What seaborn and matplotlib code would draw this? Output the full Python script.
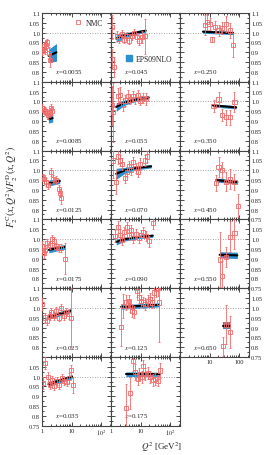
import numpy as np
import seaborn as sns
import matplotlib.pyplot as plt
from matplotlib.lines import Line2D
from matplotlib.ticker import FixedLocator, FixedFormatter, LogLocator, MultipleLocator, NullFormatter

# NMC data: Q^2, ratio, error
q_0055 = [1.02, 1.17, 1.29, 1.4, 1.48, 1.73, 1.82]
r_0055 = [0.905, 0.93, 0.91, 0.935, 0.95, 0.895, 0.86]
e_0055 = [0.02, 0.025, 0.02, 0.025, 0.02, 0.03, 0.035]

q_0085 = [1.02, 1.15, 1.3, 1.45, 1.6, 1.8, 2.0, 2.15]
r_0085 = [0.965, 0.955, 0.95, 0.94, 0.93, 0.945, 0.965, 0.95]
e_0085 = [0.02, 0.02, 0.02, 0.02, 0.02, 0.02, 0.02, 0.02]

q_0125 = [1.06, 1.17, 1.37, 1.6, 1.97, 2.36, 3.05, 3.68, 4.07, 4.5]
r_0125 = [0.963, 0.954, 0.942, 0.926, 0.993, 0.956, 0.95, 0.905, 0.885, 0.86]
e_0125 = [0.02, 0.02, 0.02, 0.02, 0.02, 0.02, 0.02, 0.02, 0.02, 0.03]

q_0175 = [1.0, 1.17, 1.29, 1.51, 1.82, 2.18, 2.55, 3.05, 3.68, 4.5, 6.2]
r_0175 = [0.962, 0.929, 0.946, 0.98, 0.97, 1.0, 0.988, 0.962, 0.955, 0.955, 0.9]
e_0175 = [0.03, 0.025, 0.02, 0.02, 0.02, 0.02, 0.02, 0.02, 0.02, 0.02, 0.08]

q_025 = [1.0, 1.29, 1.51, 1.82, 2.07, 2.55, 3.05, 3.68, 4.5, 5.56, 6.66, 8.0, 9.4]
r_025 = [1.02, 0.951, 0.934, 0.96, 0.977, 0.96, 0.985, 0.951, 0.998, 0.96, 0.977, 0.968, 0.95]
e_025 = [0.03, 0.025, 0.02, 0.02, 0.02, 0.02, 0.02, 0.02, 0.02, 0.02, 0.02, 0.025, 0.15]

q_035 = [1.06, 1.26, 1.56, 1.87, 2.13, 2.55, 3.12, 3.86, 4.64, 5.56, 6.8, 8.1, 9.6, 11.5]
r_035 = [0.968, 1.07, 0.998, 0.956, 0.985, 0.951, 0.976, 0.956, 0.993, 0.98, 0.973, 0.993, 1.035, 0.956]
e_035 = [0.03, 0.03, 0.025, 0.02, 0.02, 0.02, 0.02, 0.02, 0.02, 0.02, 0.02, 0.025, 0.025, 0.04]

q_045 = [1.08, 1.1, 1.29, 1.56, 1.91, 2.36, 2.83, 3.4, 4.17, 5.15, 6.16, 7.4, 9.1, 11.2, 14.5]
r_045 = [1.028, 0.866, 0.826, 0.985, 0.97, 0.993, 0.965, 0.985, 0.96, 0.985, 1.0, 0.977, 0.96, 0.977, 0.982]
e_045 = [0.06, 0.05, 0.05, 0.025, 0.025, 0.02, 0.02, 0.02, 0.02, 0.02, 0.02, 0.02, 0.025, 0.03, 0.09]

q_055 = [1.08, 1.2, 1.69, 2.02, 2.49, 3.05, 3.68, 4.4, 5.4, 6.6, 8.0, 9.6, 11.8, 15.3]
r_055 = [0.98, 0.946, 1.027, 1.034, 0.98, 1.005, 1.027, 1.01, 1.027, 1.013, 1.034, 1.005, 1.017, 1.013]
e_055 = [0.1, 0.15, 0.04, 0.04, 0.03, 0.03, 0.03, 0.025, 0.025, 0.025, 0.025, 0.025, 0.025, 0.03]

q_070 = [1.2, 1.5, 1.75, 2.05, 2.4, 2.9, 3.4, 4.0, 4.8, 5.7, 6.8, 8.1, 9.8, 14, 17]
r_070 = [1.05, 0.94, 1.07, 1.05, 1.03, 0.96, 0.99, 1.02, 1.0, 1.04, 1.01, 0.99, 1.03, 1.05, 1.07]
e_070 = [0.09, 0.06, 0.04, 0.03, 0.03, 0.025, 0.025, 0.025, 0.025, 0.025, 0.025, 0.025, 0.03, 0.03, 0.03]

q_090 = [1.4, 1.69, 2.02, 2.36, 2.83, 3.4, 3.98, 4.76, 5.7, 7.0, 8.7, 10.4, 12.5, 15.3, 18.9, 25.7]
r_090 = [1.014, 1.063, 1.022, 0.997, 1.038, 1.063, 1.022, 1.047, 1.005, 1.027, 1.005, 1.022, 1.038, 1.017, 0.988, 1.083]
e_090 = [0.03, 0.03, 0.03, 0.025, 0.025, 0.025, 0.025, 0.025, 0.025, 0.025, 0.025, 0.025, 0.025, 0.025, 0.03, 0.03]

q_125 = [2.18, 2.61, 3.22, 3.98, 4.4, 5.15, 6.16, 7.4, 8.7, 10.4, 12.5, 14.5, 17.6, 21, 24.5, 29.4, 33.5, 38.1, 43]
r_125 = [0.904, 1.01, 1.027, 1.035, 1.01, 0.985, 0.977, 1.087, 1.053, 1.036, 1.027, 1.019, 1.036, 1.044, 1.027, 1.078, 1.094, 1.1, 1.027]
e_125 = [0.1, 0.06, 0.04, 0.03, 0.03, 0.03, 0.03, 0.03, 0.03, 0.03, 0.03, 0.03, 0.03, 0.03, 0.03, 0.04, 0.04, 0.04, 0.2]

q_175 = [3.22, 4.4, 5.4, 6.7, 8.0, 9.1, 11.2, 12.5, 14.5, 17.6, 21, 25.8, 31.8, 38.1, 45.6]
r_175 = [0.842, 0.918, 1.078, 1.022, 0.988, 1.014, 0.997, 1.056, 1.014, 1.017, 1.0, 0.983, 0.988, 0.98, 1.031]
e_175 = [0.12, 0.08, 0.05, 0.04, 0.03, 0.03, 0.03, 0.03, 0.03, 0.03, 0.03, 0.03, 0.03, 0.03, 0.04]

q_250 = [7.1, 8.15, 10, 12.1, 15.6, 20.3, 26.5, 37, 48, 63]
r_250 = [1.04, 1.053, 1.043, 0.965, 1.028, 1.011, 1.023, 1.045, 1.011, 0.937]
e_250 = [0.05, 0.04, 0.03, 0.015, 0.03, 0.03, 0.03, 0.04, 0.04, 0.06]

q_350 = [13.7, 20.3, 26.5, 37, 48, 70]
r_350 = [0.976, 1.01, 0.932, 0.919, 0.919, 0.996]
e_350 = [0.03, 0.04, 0.03, 0.04, 0.04, 0.05]

q_450 = [17, 20.3, 26.5, 37, 51, 70, 90]
r_450 = [0.934, 1.016, 1.0, 0.942, 0.957, 0.94, 0.82]
e_450 = [0.04, 0.05, 0.04, 0.05, 0.05, 0.04, 0.06]

q_550 = [22, 26.5, 37, 48, 70]
r_550 = [0.896, 0.81, 0.91, 1.012, 1.03]
e_550 = [0.14, 0.08, 0.05, 0.08, 0.08]

q_650 = [29, 37, 48]
r_650 = [0.804, 0.915, 0.878]
e_650 = [0.05, 0.1, 0.08]

# EPS09NLO band: Q^2, central, half width
bq_0055, bc_0055, bw_0055 = [1.7, 3.1], [0.882, 0.9], [0.035, 0.045]
bq_0085, bc_0085, bw_0085 = [1.65, 2.3], [0.91, 0.915], [0.02, 0.02]
bq_0125, bc_0125, bw_0125 = [1.7, 4.0], [0.935, 0.945], [0.015, 0.012]
bq_0175, bc_0175, bw_0175 = [1.7, 6.0], [0.945, 0.96], [0.015, 0.012]
bq_025, bc_025, bw_025 = [1.7, 9.2], [0.955, 0.985], [0.013, 0.01]
bq_035, bc_035, bw_035 = [1.65, 10.5], [0.962, 1.0], [0.013, 0.01]
bq_045, bc_045, bw_045 = [1.5, 3, 7, 15], [0.97, 0.987, 1.0, 1.01], [0.02, 0.012, 0.01, 0.008]
bq_055, bc_055, bw_055 = [1.5, 3, 7, 19], [0.972, 0.995, 1.01, 1.02], [0.022, 0.013, 0.01, 0.008]
bq_070, bc_070, bw_070 = [1.5, 3, 7, 23], [0.982, 1.0, 1.012, 1.02], [0.028, 0.015, 0.01, 0.008]
bq_090, bc_090, bw_090 = [1.5, 3, 8, 26], [0.985, 1.0, 1.01, 1.017], [0.015, 0.01, 0.008, 0.008]
bq_125, bc_125, bw_125 = [2.2, 43], [1.005, 1.015], [0.012, 0.01]
bq_175, bc_175, bw_175 = [3.2, 45], [1.012, 1.012], [0.012, 0.01]
bq_250, bc_250, bw_250 = [6, 63], [1.005, 0.998], [0.008, 0.008]
bq_350, bc_350, bw_350 = [13, 80], [0.98, 0.97], [0.008, 0.008]
bq_450, bc_450, bw_450 = [17, 88], [0.95, 0.94], [0.01, 0.01]
bq_550, bc_550, bw_550 = [22, 88], [0.92, 0.917], [0.016, 0.016]
bq_650, bc_650, bw_650 = [29, 48], [0.91, 0.91], [0.02, 0.02]

x_labels = ["0.0055", "0.0085", "0.0125", "0.0175", "0.025", "0.035",
            "0.045", "0.055", "0.070", "0.090", "0.125", "0.175",
            "0.250", "0.350", "0.450", "0.550", "0.650"]

panels = [
    (0, 0, q_0055, r_0055, e_0055, bq_0055, bc_0055, bw_0055),
    (0, 1, q_0085, r_0085, e_0085, bq_0085, bc_0085, bw_0085),
    (0, 2, q_0125, r_0125, e_0125, bq_0125, bc_0125, bw_0125),
    (0, 3, q_0175, r_0175, e_0175, bq_0175, bc_0175, bw_0175),
    (0, 4, q_025, r_025, e_025, bq_025, bc_025, bw_025),
    (0, 5, q_035, r_035, e_035, bq_035, bc_035, bw_035),
    (1, 0, q_045, r_045, e_045, bq_045, bc_045, bw_045),
    (1, 1, q_055, r_055, e_055, bq_055, bc_055, bw_055),
    (1, 2, q_070, r_070, e_070, bq_070, bc_070, bw_070),
    (1, 3, q_090, r_090, e_090, bq_090, bc_090, bw_090),
    (1, 4, q_125, r_125, e_125, bq_125, bc_125, bw_125),
    (1, 5, q_175, r_175, e_175, bq_175, bc_175, bw_175),
    (2, 0, q_250, r_250, e_250, bq_250, bc_250, bw_250),
    (2, 1, q_350, r_350, e_350, bq_350, bc_350, bw_350),
    (2, 2, q_450, r_450, e_450, bq_450, bc_450, bw_450),
    (2, 3, q_550, r_550, e_550, bq_550, bc_550, bw_550),
    (2, 4, q_650, r_650, e_650, bq_650, bc_650, bw_650),
]

red = "#f06a6a"
blue = "#2b8fd0"

sns.set_style("ticks")
plt.rcParams["font.family"] = ["Liberation Serif", "DejaVu Serif"]
plt.rcParams["mathtext.fontset"] = "stix"

W, H = 276, 456
fig = plt.figure(figsize=(W / 100, H / 100), dpi=100)
col_left = [42, 111, 180]
col_w = 69
row_h = 68.8
top0 = 14

yt_all = [0.75, 0.8, 0.85, 0.9, 0.95, 1.0, 1.05, 1.1]
yt_str = ["0.75", "0.8", "0.85", "0.9", "0.95", "1.0", "1.05", "1.1"]

axes = {}
for i, (c, r, q, v, e, bq, bc, bw) in enumerate(panels):
    left = col_left[c]
    top = top0 + r * row_h
    ax = fig.add_axes([left / W, 1 - (top + row_h) / H, col_w / W, row_h / H])
    axes[(c, r)] = ax
    ax.set_xscale("log")
    ax.set_xlim(1, 10 ** (col_w / 29.5))
    ax.set_ylim(0.75, 1.1)

    bq = np.array(bq)
    bc = np.array(bc)
    bw = np.array(bw)
    ax.fill_between(bq, bc - bw, bc + bw, color=blue, lw=0, zorder=2)
    sns.lineplot(x=bq, y=bc, ax=ax, color="black", lw=1.5, zorder=3)
    ax.axhline(1.0, color="#888888", ls=(0, (1, 2)), lw=0.6, zorder=1)
    ax.errorbar(q, v, yerr=e, fmt="none", ecolor=red, elinewidth=0.6,
                capsize=1.0, capthick=0.6, zorder=4)
    sns.scatterplot(x=q, y=v, ax=ax, marker="s", s=9, facecolor="none",
                    edgecolor=red, linewidth=0.6, zorder=5)

    ax.text(0.19, 0.15, "$x$=" + x_labels[i], transform=ax.transAxes,
            fontsize=5, ha="left", va="center")

    # ticks
    ax.tick_params(which="both", direction="in", top=True, right=True,
                   labelsize=4.6, pad=1.5, width=0.5, color="black")
    ax.tick_params(which="major", length=3)
    ax.tick_params(which="minor", length=1.6)
    ax.yaxis.set_major_locator(FixedLocator(yt_all))
    ax.yaxis.set_minor_locator(MultipleLocator(0.025))
    ax.xaxis.set_major_locator(FixedLocator([1, 10, 100]))
    ax.xaxis.set_minor_locator(LogLocator(base=10, subs=np.arange(2, 10)))
    ax.xaxis.set_minor_formatter(NullFormatter())

    if c == 0:
        labs = [s if 0.8 <= t else "" for t, s in zip(yt_all, yt_str)]
        if r == 5:
            labs = [s if t <= 1.05 else "" for t, s in zip(yt_all, yt_str)]
        ax.yaxis.set_major_formatter(FixedFormatter(labs))
        ax.tick_params(labelleft=True, labelright=False)
    elif c == 2:
        if r <= 1:
            labs = [s if 0.8 <= t else "" for t, s in zip(yt_all, yt_str)]
        elif r == 2:
            labs = yt_str
        else:
            labs = [s if t <= 1.05 else "" for t, s in zip(yt_all, yt_str)]
        ax.yaxis.set_major_formatter(FixedFormatter(labs))
        ax.tick_params(labelleft=False, labelright=True)
    else:
        ax.tick_params(labelleft=False, labelright=False)

    if c == 0 and r == 5:
        ax.xaxis.set_major_formatter(FixedFormatter(["1", "10", "$10^2$"]))
    elif c == 1 and r == 5:
        ax.xaxis.set_major_formatter(FixedFormatter(["1", "10", "$10^2$"]))
    elif c == 2 and r >= 2:
        ax.xaxis.set_major_formatter(FixedFormatter(["", "10", "100"]))
    else:
        ax.tick_params(labelbottom=False)

    for sp in ax.spines.values():
        sp.set_color("#444444")
        sp.set_linewidth(0.8)

# legends
nmc = Line2D([], [], marker="s", mfc="none", mec=red, mew=0.6, ms=3.5, ls="none")
axes[(0, 0)].legend([nmc], ["NMC"], loc="center left", bbox_to_anchor=(0.47, 0.855),
                    frameon=False, fontsize=5.5, handlelength=1.0, handletextpad=0.5,
                    borderaxespad=0, borderpad=0)
eps = Line2D([], [], marker="s", color=blue, ms=4, ls="none")
axes[(1, 0)].legend([eps], ["EPS09NLO"], loc="center left", bbox_to_anchor=(0.2, 0.33),
                    frameon=False, fontsize=5.5, handlelength=1.0, handletextpad=0.5,
                    borderaxespad=0, borderpad=0)

fig.text(12 / W, 1 - 187 / H, r"$F_2^{\rm C}(x,Q^2)/F_2^{\rm D}(x,Q^2)$",
         rotation=90, ha="center", va="center", fontsize=7)
fig.text(162 / W, 1 - 447 / H, r"$Q^2$ [GeV$^2$]", ha="center", va="center", fontsize=6.5)

fig.savefig("out.png", dpi=100)
